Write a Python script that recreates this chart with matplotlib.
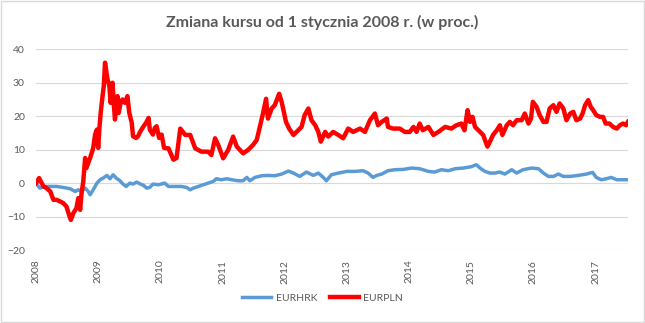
import matplotlib
matplotlib.use("Agg")
import matplotlib.pyplot as plt
from matplotlib.patches import Rectangle

title = "Zmiana kursu od 1 stycznia 2008 r. (w proc.)"
year_ticks = [2008, 2009, 2010, 2011, 2012, 2013, 2014, 2015, 2016, 2017]
y_ticks = [-20, -10, 0, 10, 20, 30, 40]

# EURPLN: (decimal year, % change)
pln_t = [2008.00, 2008.05, 2008.12, 2008.17, 2008.23, 2008.28, 2008.33, 2008.39, 2008.44, 2008.49,
         2008.54, 2008.56, 2008.60, 2008.65, 2008.68, 2008.71, 2008.73, 2008.76, 2008.79, 2008.81,
         2008.87, 2008.92, 2008.95, 2008.98, 2009.00, 2009.02, 2009.04, 2009.07, 2009.09, 2009.11,
         2009.15, 2009.18, 2009.20, 2009.23, 2009.25, 2009.27, 2009.31, 2009.33, 2009.36, 2009.39,
         2009.43, 2009.47, 2009.50, 2009.54, 2009.56, 2009.61, 2009.64, 2009.68, 2009.73, 2009.77,
         2009.81, 2009.83, 2009.88, 2009.91, 2009.94, 2009.98, 2010.02, 2010.06, 2010.13, 2010.21,
         2010.26, 2010.32, 2010.40, 2010.48, 2010.56, 2010.66, 2010.77, 2010.82, 2010.88, 2010.93,
         2011.01, 2011.09, 2011.17, 2011.23, 2011.33, 2011.41, 2011.49, 2011.55, 2011.60, 2011.65,
         2011.70, 2011.73, 2011.79, 2011.84, 2011.91, 2011.95, 2012.02, 2012.07, 2012.14, 2012.19,
         2012.27, 2012.32, 2012.38, 2012.43, 2012.49, 2012.54, 2012.58, 2012.65, 2012.70, 2012.78,
         2012.86, 2012.94, 2013.02, 2013.10, 2013.21, 2013.29, 2013.37, 2013.45, 2013.50, 2013.56,
         2013.64, 2013.66, 2013.74, 2013.85, 2013.93, 2014.01, 2014.07, 2014.12, 2014.17, 2014.22,
         2014.31, 2014.39, 2014.47, 2014.58, 2014.68, 2014.76, 2014.84, 2014.89, 2014.94, 2014.98,
         2015.02, 2015.06, 2015.14, 2015.19, 2015.23, 2015.26, 2015.30, 2015.35, 2015.41, 2015.46,
         2015.50, 2015.57, 2015.62, 2015.67, 2015.73, 2015.81, 2015.86, 2015.92, 2015.96, 2015.99,
         2016.05, 2016.10, 2016.16, 2016.21, 2016.26, 2016.32, 2016.37, 2016.42, 2016.48, 2016.53,
         2016.59, 2016.64, 2016.69, 2016.75, 2016.79, 2016.83, 2016.88, 2016.92, 2016.96, 2017.01,
         2017.07, 2017.12, 2017.16, 2017.22, 2017.28, 2017.34, 2017.39, 2017.44, 2017.49, 2017.52]
pln_v = [0.0, 1.5, -1.0, -1.5, -2.5, -5.0, -5.0, -5.5, -6.0, -7.0,
         -10.0, -11.0, -9.0, -7.5, -4.5, -8.0, -3.5, 0.5, 7.5, 4.5,
         7.5, 10.5, 14.5, 16.0, 10.5, 16.5, 21.0, 26.0, 29.0, 36.0,
         31.0, 29.0, 24.0, 30.0, 24.0, 19.0, 26.0, 21.0, 24.0, 25.0,
         24.0, 26.0, 21.0, 18.0, 14.0, 13.5, 14.0, 15.5, 17.0, 18.0,
         19.5, 16.0, 14.5, 16.5, 17.0, 13.5, 14.5, 10.5, 10.4, 7.0,
         7.5, 16.3, 14.4, 14.4, 10.4, 9.4, 9.4, 8.4, 13.4, 11.4,
         7.4, 9.9, 13.9, 10.9, 8.9, 9.9, 11.4, 12.9, 16.8, 20.8,
         25.2, 19.3, 22.3, 23.3, 26.7, 24.3, 18.3, 16.3, 14.4, 15.3,
         16.8, 20.3, 22.3, 18.8, 17.3, 15.3, 12.4, 15.3, 13.9, 15.3,
         14.4, 13.4, 16.3, 15.3, 16.3, 15.3, 18.8, 20.8, 17.3, 18.3,
         19.3, 16.8, 16.3, 16.3, 15.3, 15.3, 16.8, 15.3, 17.8, 15.8,
         16.8, 14.4, 15.3, 16.8, 16.3, 17.3, 17.8, 15.8, 21.8, 18.3,
         19.8, 16.8, 15.3, 14.4, 12.4, 10.9, 12.4, 14.4, 15.8, 17.3,
         14.4, 17.3, 18.3, 17.3, 18.8, 18.8, 20.8, 17.8, 19.3, 24.3,
         22.8, 20.3, 18.3, 18.3, 22.3, 23.3, 21.3, 23.8, 22.3, 18.8,
         20.8, 21.3, 18.8, 19.3, 20.8, 23.3, 24.8, 22.8, 21.8, 20.3,
         19.8, 19.8, 17.8, 17.8, 16.8, 16.3, 17.3, 17.8, 17.3, 18.3]

# EURHRK: (decimal year, % change)
hrk_t = [2008.00, 2008.06, 2008.14, 2008.23, 2008.33, 2008.44, 2008.55, 2008.63, 2008.68, 2008.73,
         2008.79, 2008.84, 2008.87, 2008.92, 2008.98, 2009.03, 2009.08, 2009.14, 2009.19, 2009.24,
         2009.29, 2009.35, 2009.40, 2009.45, 2009.51, 2009.56, 2009.62, 2009.67, 2009.73, 2009.78,
         2009.83, 2009.88, 2009.97, 2010.07, 2010.13, 2010.23, 2010.34, 2010.42, 2010.48, 2010.53,
         2010.61, 2010.69, 2010.77, 2010.85, 2010.90, 2010.98, 2011.07, 2011.15, 2011.25, 2011.33,
         2011.39, 2011.44, 2011.52, 2011.63, 2011.73, 2011.84, 2011.95, 2012.06, 2012.14, 2012.24,
         2012.35, 2012.46, 2012.54, 2012.62, 2012.67, 2012.75, 2012.86, 2013.00, 2013.13, 2013.26,
         2013.34, 2013.42, 2013.48, 2013.56, 2013.66, 2013.77, 2013.91, 2014.04, 2014.17, 2014.31,
         2014.41, 2014.52, 2014.63, 2014.74, 2014.87, 2015.00, 2015.08, 2015.14, 2015.22, 2015.30,
         2015.38, 2015.46, 2015.54, 2015.65, 2015.73, 2015.83, 2015.97, 2016.08, 2016.16, 2016.24,
         2016.32, 2016.40, 2016.48, 2016.59, 2016.72, 2016.85, 2016.95, 2017.01, 2017.09, 2017.17,
         2017.25, 2017.34, 2017.44, 2017.52]
hrk_v = [0.0, -1.5, -1.0, -1.0, -1.0, -1.3, -1.7, -2.5, -2.0, -2.5,
         -1.5, -2.5, -3.5, -2.0, 0.0, 1.0, 1.5, 2.3, 1.3, 2.5,
         1.5, 0.7, -0.3, -1.0, 0.0, -0.3, 0.3, -0.2, -0.7, -1.5,
         -1.3, -0.3, -0.5, 0.0, -1.0, -1.0, -1.0, -1.3, -2.0, -1.5,
         -1.0, -0.5, 0.0, 0.5, 1.3, 1.0, 1.3, 1.0, 0.7, 0.7,
         1.7, 0.7, 1.7, 2.2, 2.3, 2.2, 2.7, 3.6, 3.0, 2.0,
         3.3, 2.3, 3.0, 1.7, 0.7, 2.5, 3.0, 3.5, 3.5, 3.7,
         3.0, 1.7, 2.3, 2.7, 3.7, 4.0, 4.1, 4.5, 4.3, 3.5,
         3.3, 4.0, 3.7, 4.3, 4.5, 4.9, 5.5, 4.5, 3.5, 3.0,
         3.0, 3.3, 2.7, 4.0, 3.0, 4.0, 4.5, 4.3, 3.0, 2.0,
         2.0, 2.7, 2.0, 2.0, 2.3, 2.7, 3.2, 1.7, 1.0, 1.3,
         1.7, 1.0, 1.0, 1.0]

grey = "#595959"
plt.rcParams['font.family'] = ['Lato', 'DejaVu Sans']

fig = plt.figure(figsize=(6.45, 3.23), dpi=100)
fig.patches.append(Rectangle((0.002, 0.003), 0.996, 0.994, transform=fig.transFigure,
                             fill=False, edgecolor="#d9d9d9", linewidth=1.0))
ax = fig.add_axes([36/645, 1-250/323, (628-36)/645, (250-49.3)/323])

ax.plot(hrk_t, hrk_v, color="#5b9bd5", lw=2.5, label="EURHRK", solid_joinstyle="round")
ax.plot(pln_t, pln_v, color="#ff0000", lw=3.2, label="EURPLN", solid_joinstyle="round")

ax.set_xlim(2008.0, 2017.52)
ax.set_ylim(-20, 40)
ax.set_yticks(y_ticks)
ax.set_xticks(year_ticks)
ax.set_xticklabels([str(y) for y in year_ticks], rotation=90)
ax.tick_params(axis='both', length=0, colors=grey, labelsize=7.5)
ax.tick_params(axis='x', pad=7)
ax.tick_params(axis='y', pad=8)
ax.grid(axis='y', color="#d9d9d9", lw=0.8)
ax.set_axisbelow(True)
for s in ax.spines.values():
    s.set_visible(False)

fig.text(0.5, 1-22/323, title, ha='center', va='center', fontsize=11.5, fontweight='bold', color=grey)

leg = fig.legend(loc='center', bbox_to_anchor=(0.5, 1-298/323), ncol=2, frameon=False,
                 fontsize=7.5, handlelength=2.8, columnspacing=1.2, handletextpad=0.4)
for t in leg.get_texts():
    t.set_color(grey)

fig.savefig("out.png", dpi=100)
